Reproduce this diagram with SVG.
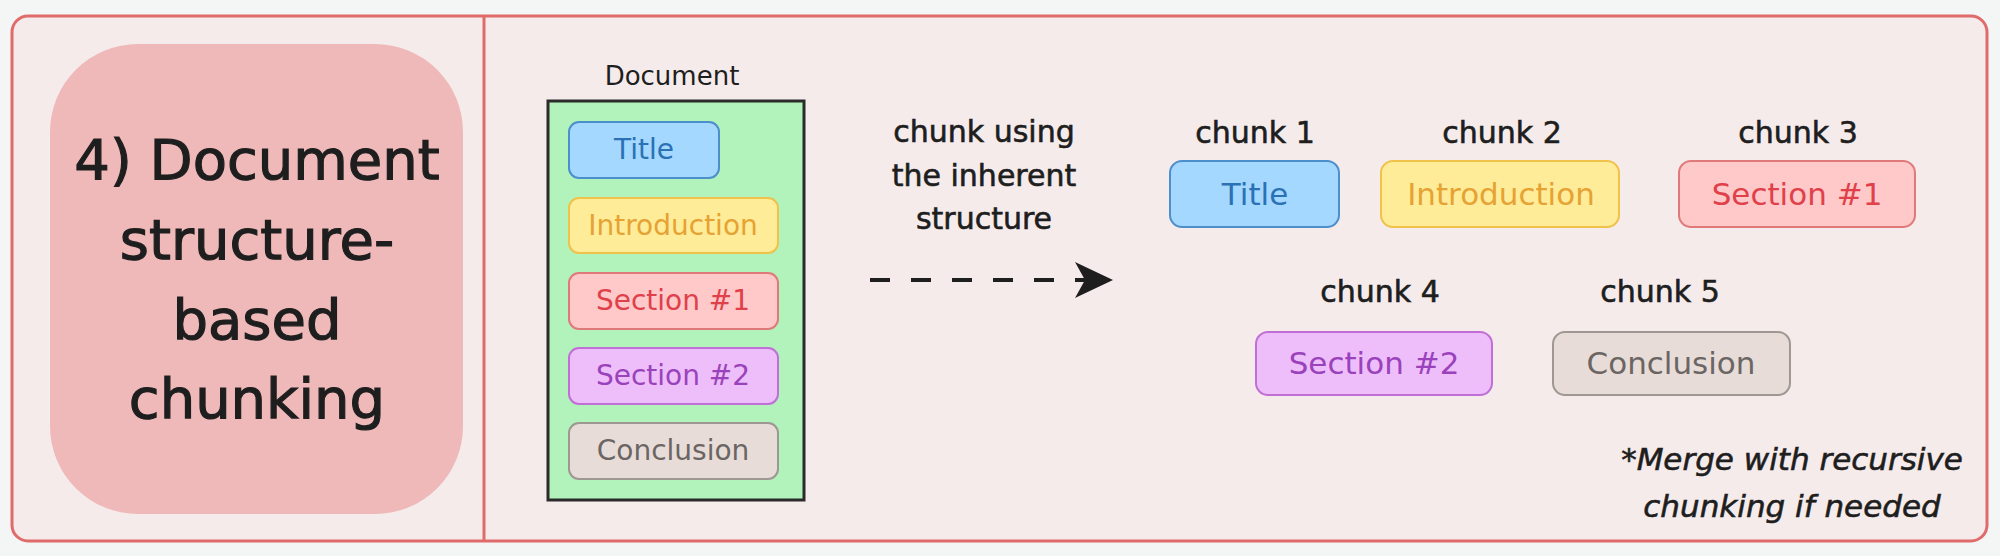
<svg xmlns="http://www.w3.org/2000/svg" width="2000" height="556" viewBox="0 0 2000 556">
<style>
text{font-family:"DejaVu Sans","Liberation Sans",sans-serif;fill:#1e1e1e;text-anchor:middle}
.title{font-size:56px;stroke:#1e1e1e;stroke-width:1.2}
.lbl{font-size:30px;stroke:#1e1e1e;stroke-width:0.6}
.doc{font-size:28px}
.chk{font-size:31px}
.note{font-size:31px;font-style:italic;stroke:#1e1e1e;stroke-width:0.6}
.box{stroke-width:2}
.blue{fill:#a5d8ff;stroke:#4d8fcc}
.yellow{fill:#ffec99;stroke:#f0c24a}
.red{fill:#ffc9c9;stroke:#e07a7a}
.purple{fill:#eebefa;stroke:#bf6fd6}
.gray{fill:#e8dcd8;stroke:#9e9792}
.tblue{fill:#2a72b5}
.tyellow{fill:#e6a233}
.tred{fill:#e0404a}
.tpurple{fill:#9a42bb}
.tgray{fill:#6b6563}
</style>
<defs>
<marker id="ah" markerWidth="40" markerHeight="38" refX="38" refY="19" orient="auto" markerUnits="userSpaceOnUse">
<path d="M0,1 L38,19 L0,37 L10,19 Z" fill="#1e1e1e"/>
</marker>
</defs>
<rect x="0" y="0" width="2000" height="556" fill="#f4f5f5"/>
<g id="frame">
<rect x="12" y="16" width="1975" height="525" rx="16" fill="#f6ebeb" stroke="#e06b6b" stroke-width="3"/>
<line x1="484" y1="16" x2="484" y2="541" stroke="#e06b6b" stroke-width="3"/>
</g>
<g id="heading">
<rect x="50" y="44" width="413" height="470" rx="88" fill="#efb9b9"/>
<text class="title" x="257" y="179">4) Document</text>
<text class="title" x="257" y="259">structure-</text>
<text class="title" x="257" y="339">based</text>
<text class="title" x="257" y="418">chunking</text>
</g>
<g id="document">
<text x="672" y="85" style="font-size:26px">Document</text>
<rect x="548" y="101" width="256" height="399" fill="#b2f2bb" stroke="#2b2b2b" stroke-width="3"/>
<g id="doc-title"><rect class="box blue" x="569" y="122" width="150" height="56" rx="10"/><text class="doc tblue" x="644" y="159">Title</text></g>
<g id="doc-intro"><rect class="box yellow" x="569" y="198" width="209" height="55" rx="10"/><text class="doc tyellow" x="673" y="235">Introduction</text></g>
<g id="doc-sec1"><rect class="box red" x="569" y="273" width="209" height="56" rx="10"/><text class="doc tred" x="673" y="310">Section #1</text></g>
<g id="doc-sec2"><rect class="box purple" x="569" y="348" width="209" height="56" rx="10"/><text class="doc tpurple" x="673" y="385">Section #2</text></g>
<g id="doc-concl"><rect class="box gray" x="569" y="423" width="209" height="56" rx="10"/><text class="doc tgray" x="673" y="460">Conclusion</text></g>
</g>
<g id="arrow-label">
<text class="lbl" x="984" y="142">chunk using</text>
<text class="lbl" x="984" y="186">the inherent</text>
<text class="lbl" x="984" y="229">structure</text>
</g>
<g id="connectors">
<line x1="870" y1="280" x2="1113" y2="280" stroke="#1e1e1e" stroke-width="4" stroke-dasharray="20 21" marker-end="url(#ah)"/>
</g>
<g id="chunk1"><text class="lbl" x="1255" y="143">chunk 1</text><rect class="box blue" x="1170" y="161" width="169" height="66" rx="12"/><text class="chk tblue" x="1255" y="205">Title</text></g>
<g id="chunk2"><text class="lbl" x="1502" y="143">chunk 2</text><rect class="box yellow" x="1381" y="161" width="238" height="66" rx="12"/><text class="chk tyellow" x="1501" y="205">Introduction</text></g>
<g id="chunk3"><text class="lbl" x="1798" y="143">chunk 3</text><rect class="box red" x="1679" y="161" width="236" height="66" rx="12"/><text class="chk tred" x="1797" y="205">Section #1</text></g>
<g id="chunk4"><text class="lbl" x="1380" y="302">chunk 4</text><rect class="box purple" x="1256" y="332" width="236" height="63" rx="12"/><text class="chk tpurple" x="1374" y="374">Section #2</text></g>
<g id="chunk5"><text class="lbl" x="1660" y="302">chunk 5</text><rect class="box gray" x="1553" y="332" width="237" height="63" rx="12"/><text class="chk tgray" x="1671" y="374">Conclusion</text></g>
<g id="note">
<text class="note" x="1792" y="470">*Merge with recursive</text>
<text class="note" x="1792" y="517">chunking if needed</text>
</g>
</svg>
